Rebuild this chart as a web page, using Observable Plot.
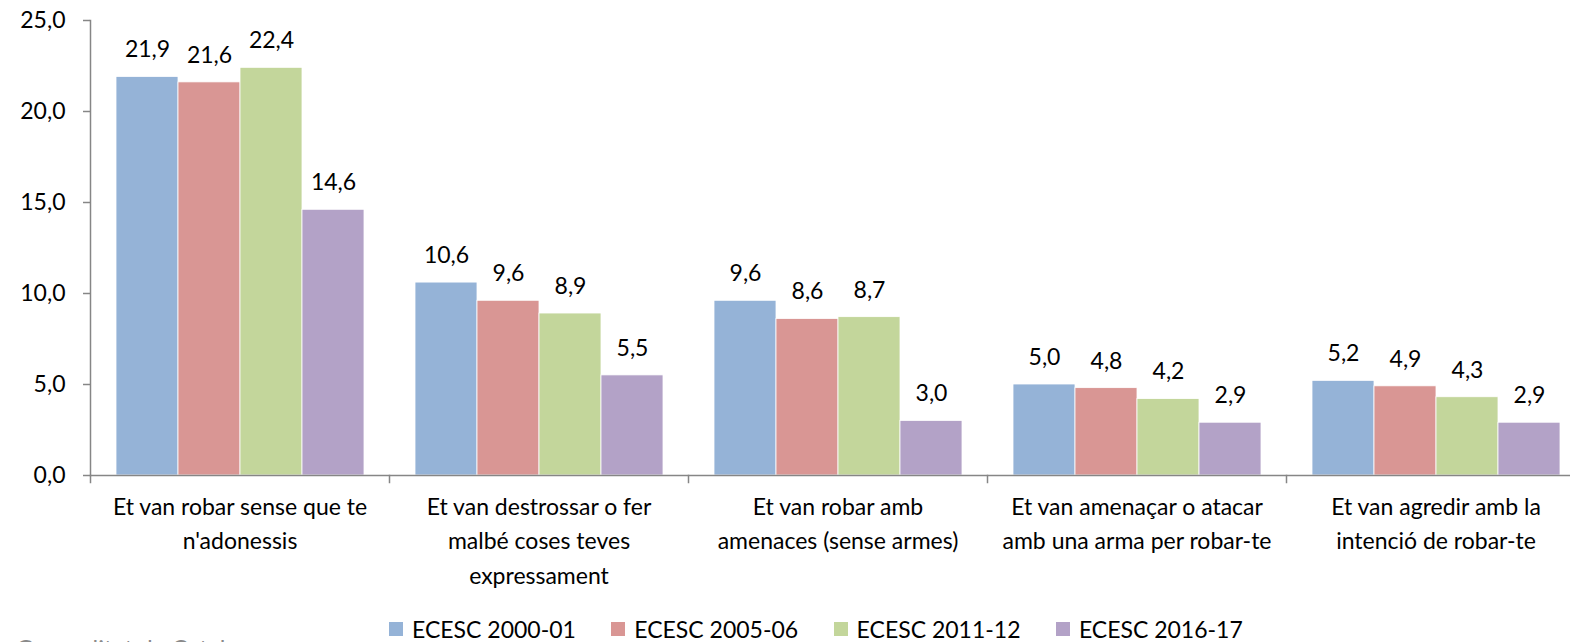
<!DOCTYPE html>
<html><head><meta charset="utf-8">
<script src="https://cdn.jsdelivr.net/npm/d3@7"></script>
<script src="https://cdn.jsdelivr.net/npm/@observablehq/plot@0.6"></script>
<style>
html,body{margin:0;padding:0;background:#fff;overflow:hidden;width:1570px;height:642px}
#chart{position:relative;width:1570px;height:642px;font-family:Lato,sans-serif;overflow:hidden}
#chart svg{display:block;overflow:hidden}
.legend{position:absolute;top:616px;left:0;width:1570px;height:26px}
.item{position:absolute;top:0;display:flex;align-items:center;height:26px;font-size:23px;line-height:26px;color:#000;white-space:nowrap}
.sw{width:14px;height:14px;margin-right:9px;flex:none}
.logo{position:absolute;left:16px;top:634px;font-size:24px;line-height:28px;color:#8a8a8a;white-space:nowrap}
.logo b{color:#c0392b;position:absolute;left:-15px;top:2px;font-size:12px}
</style></head><body><div id="chart"></div>
<script>
const categories = [
  "Et van robar sense que te\nn'adonessis",
  "Et van destrossar o fer\nmalbé coses teves\nexpressament",
  "Et van robar amb\namenaces (sense armes)",
  "Et van amenaçar o atacar\namb una arma per robar-te",
  "Et van agredir amb la\nintenció de robar-te"
];
const series = ["ECESC 2000-01", "ECESC 2005-06", "ECESC 2011-12", "ECESC 2016-17"];
const v2000 = [21.9, 10.6, 9.6, 5.0, 5.2];
const v2005 = [21.6, 9.6, 8.6, 4.8, 4.9];
const v2011 = [22.4, 8.9, 8.7, 4.2, 4.3];
const v2016 = [14.6, 5.5, 3.0, 2.9, 2.9];
const colors = ["#95B3D7", "#D99694", "#C3D69B", "#B3A2C7"];
const yTicks = [0, 5, 10, 15, 20, 25];

const seriesValues = [v2000, v2005, v2011, v2016];
const data = [];
categories.forEach((c, i) => series.forEach((s, j) => data.push({cat: c, series: s, value: seriesValues[j][i]})));

const fmt = v => d3.format(".1f")(v).replace(".", ",");
const gray = "#868686";

const plot = Plot.plot({
  width: 1570,
  height: 600,
  marginTop: 20,
  marginBottom: 125,
  marginLeft: 88,
  marginRight: -17,
  style: {fontFamily: "Lato, sans-serif", fontSize: "23px", color: "#000", background: "#fff", overflow: "hidden"},
  fx: {domain: categories, padding: 0, axis: null},
  x: {domain: series, paddingInner: 0, paddingOuter: 0.389, axis: null},
  y: {domain: [0, 25], ticks: yTicks, tickFormat: fmt, label: null, grid: false},
  color: {domain: series, range: colors},
  marks: [
    Plot.axisY({ticks: yTicks, tickFormat: fmt, tickSize: 7, tickPadding: 18, stroke: gray, strokeWidth: 1.5, strokeOpacity: 1, label: null, fontSize: 23, fill: "#000"}),
    Plot.frame({anchor: "left", fx: () => categories[0], stroke: gray, strokeWidth: 1.5}),
    Plot.barY(data, {fx: "cat", x: "series", y: "value", fill: "series", stroke: "#fff", strokeWidth: 0.8}),
    Plot.ruleY([0], {stroke: gray, strokeWidth: 1.5}),
    Plot.frame({anchor: "left", stroke: gray, strokeWidth: 1.5, insetTop: 455, insetBottom: -7}),
    Plot.text(data, {fx: "cat", x: "series", y: "value", text: d => fmt(d.value), dy: -27, fontSize: 23, fill: "#000"}),
    Plot.text(categories, {fx: d => d, text: d => d, frameAnchor: "bottom", lineAnchor: "top", dy: 15, lineHeight: 1.5, fontSize: 23, fill: "#000"})
  ]
});

const chart = document.getElementById("chart");
chart.appendChild(plot);

const legend = document.createElement("div");
legend.className = "legend";
series.forEach((s, i) => {
  const it = document.createElement("div");
  it.className = "item";
  it.style.left = (389 + i * 222.3) + "px";
  const sw = document.createElement("span");
  sw.className = "sw";
  sw.style.background = colors[i];
  const tx = document.createElement("span");
  tx.textContent = s;
  it.appendChild(sw);
  it.appendChild(tx);
  legend.appendChild(it);
});
chart.appendChild(legend);

const logo = document.createElement("div");
logo.className = "logo";
logo.innerHTML = "<b>&#9632;</b>Generalitat de Catalunya";
chart.appendChild(logo);
</script>
</body></html>
